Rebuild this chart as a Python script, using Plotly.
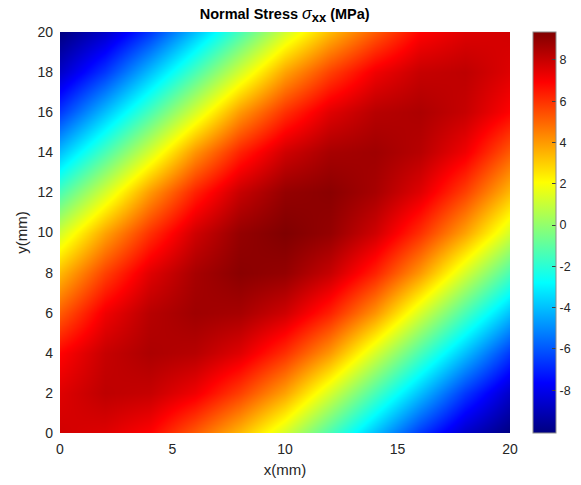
import plotly.graph_objects as go

# grid coordinates (mm)
x_mm = [0, 2, 4, 6, 8, 10, 12, 14, 16, 18, 20]
y_mm = [0, 2, 4, 6, 8, 10, 12, 14, 16, 18, 20]

# sigma_xx (MPa), rows = y, cols = x
row_y0  = [7.8, 7.55, 6.9, 5.2, 3.4, 1.22, -1.4, -4.0, -6.6, -8.7, -10.07]
row_y2  = [7.55, 8.17, 8.01, 7.2, 5.71, 3.83, 1.26, -1.4, -4.0, -6.6, -8.7]
row_y4  = [6.9, 8.01, 8.5, 8.3, 7.52, 6.03, 4.01, 1.29, -1.4, -4.0, -6.6]
row_y6  = [5.2, 7.2, 8.3, 8.75, 8.6, 7.84, 6.30, 4.1, 1.29, -1.4, -4.0]
row_y8  = [3.4, 5.71, 7.52, 8.6, 9.15, 8.95, 8.0, 6.30, 4.01, 1.26, -1.4]
row_y10 = [1.22, 3.83, 6.03, 7.84, 8.95, 9.35, 8.95, 7.84, 6.03, 3.83, 1.22]
row_y12 = [-1.4, 1.26, 4.01, 6.30, 8.0, 8.95, 9.15, 8.6, 7.52, 5.71, 3.4]
row_y14 = [-4.0, -1.4, 1.29, 4.1, 6.30, 7.84, 8.6, 8.75, 8.3, 7.2, 5.2]
row_y16 = [-6.6, -4.0, -1.4, 1.29, 4.01, 6.03, 7.52, 8.3, 8.5, 8.01, 6.9]
row_y18 = [-8.7, -6.6, -4.0, -1.4, 1.26, 3.83, 5.71, 7.2, 8.01, 8.17, 7.55]
row_y20 = [-10.07, -8.7, -6.6, -4.0, -1.4, 1.22, 3.4, 5.2, 6.9, 7.55, 7.8]

sigma = [row_y0, row_y2, row_y4, row_y6, row_y8, row_y10,
         row_y12, row_y14, row_y16, row_y18, row_y20]

x_ticks = [0, 5, 10, 15, 20]
y_ticks = [0, 2, 4, 6, 8, 10, 12, 14, 16, 18, 20]
cbar_ticks = [-8, -6, -4, -2, 0, 2, 4, 6, 8]
cbar_labels = ["-8", "-6", "-4", "-2", "0", "2", "4", "6", "8"]
cmin, cmax = -10.07, 9.35

jet = [[0.0, "rgb(0,0,128)"], [0.125, "rgb(0,0,255)"], [0.375, "rgb(0,255,255)"],
       [0.625, "rgb(255,255,0)"], [0.875, "rgb(255,0,0)"], [1.0, "rgb(128,0,0)"]]

FONT = "Liberation Sans, Arial, Helvetica, sans-serif"
TXT = "#262626"

title_text = ("<b>Normal Stress </b><span style='font-size:16px'><i>σ</i></span>"
              "<sub><span style='font-size:13px'><b>xx</b></span></sub><b> (MPa)</b>")

fig = go.Figure(go.Heatmap(
    x=x_mm, y=y_mm, z=sigma, zsmooth="best", colorscale=jet,
    zmin=cmin, zmax=cmax,
    colorbar=dict(
        x=1.051, xanchor="left", y=0.5, yanchor="middle", len=1.0, lenmode="fraction",
        thickness=23, thicknessmode="pixels", outlinewidth=1, outlinecolor="#8c8c8c",
        tickvals=cbar_ticks, ticktext=cbar_labels, ticks="inside", ticklen=4,
        tickcolor="#404040",
        tickfont=dict(family=FONT, size=12.5, color=TXT), xpad=0, ypad=0,
    ),
))

fig.update_layout(
    width=581, height=485,
    margin=dict(l=60, r=71, t=32, b=52, autoexpand=False),
    paper_bgcolor="white", plot_bgcolor="white",
    font=dict(family=FONT, color=TXT),
    title=dict(text=title_text,
               x=0.49, xanchor="center", y=0.972, yanchor="middle",
               font=dict(family=FONT, size=14.5, color="black")),
    xaxis=dict(range=[0, 20], tickvals=x_ticks, showgrid=False, zeroline=False,
               ticks="", ticklabelstandoff=6,
               tickfont=dict(family=FONT, size=14, color=TXT),
               title=dict(text="x(mm)", font=dict(family=FONT, size=15, color=TXT), standoff=8)),
    yaxis=dict(range=[0, 20], tickvals=y_ticks, showgrid=False, zeroline=False,
               ticks="", ticklabelstandoff=6,
               tickfont=dict(family=FONT, size=14, color=TXT),
               title=dict(text="y(mm)", font=dict(family=FONT, size=15, color=TXT), standoff=6)),
)

fig.write_html("out.html")
